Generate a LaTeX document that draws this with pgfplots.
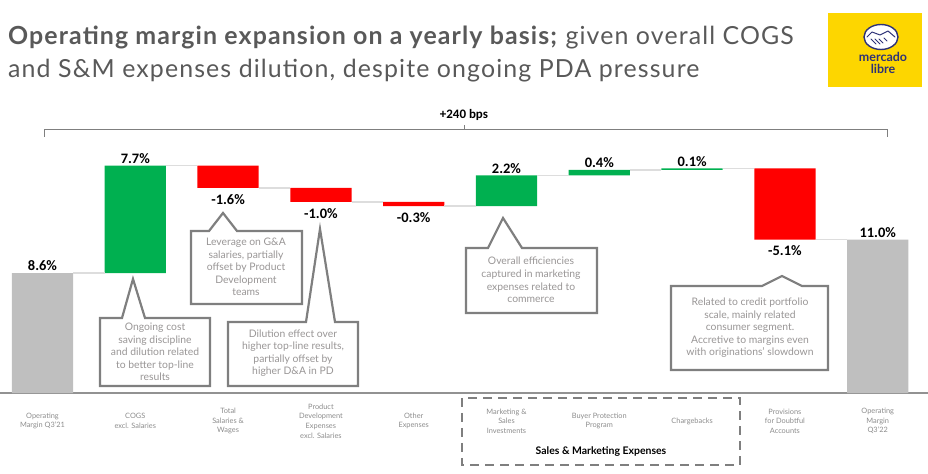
\documentclass[border=0pt]{standalone}
\usepackage{pgfplots}
\pgfplotsset{compat=1.18}
\usepackage{fontspec}
\setmainfont{Lato}
\newfontfamily\carlito{Carlito}
\newfontfamily\titlefont[LetterSpace=4.5]{Lato}
\definecolor{tgray}{HTML}{595959}
\definecolor{gbar}{HTML}{BFBFBF}
\definecolor{gup}{HTML}{00B050}
\definecolor{rdown}{HTML}{FF0000}
\definecolor{conn}{HTML}{DDDDDD}
\definecolor{boxc}{HTML}{7F7F7F}
\definecolor{ctext}{HTML}{999696}
\definecolor{lbl}{HTML}{8C8C8C}
\definecolor{mly}{HTML}{FDD600}
\definecolor{mlb}{HTML}{2D3277}
\begin{document}
\begin{tikzpicture}
\path[use as bounding box] (0,0) rectangle (928bp,474bp);
\pgfplotsset{wf/.style={at={(0,0)},anchor=south west,scale only axis,width=928bp,height=474bp,
  xmin=-0.458,xmax=9.542,ymin=-5.806,ymax=28.172,clip=false,
  axis line style={draw=none},tick style={draw=none},ytick=\empty}}
% baseline
\draw[boxc!85, line width=1.3bp] (0,81bp) -- (928bp,81bp);
% bars
\begin{axis}[wf, ybar stacked, bar width=0.66,
  xtick={0,...,9},
  xticklabels={Operating\\Margin Q3'21, COGS\\excl. Salaries, Total\\Salaries \&\\Wages,
    Product\\Development\\Expenses\\excl. Salaries, Other\\Expenses,
    Marketing \&\\Sales\\Investments, Buyer Protection\\Program, Chargebacks,
    Provisions\\for Doubtful\\Accounts, Operating\\Margin\\Q3'22},
  xticklabel style={anchor=center, align=center, text=lbl, yshift=53bp,
    font=\fontsize{7.4}{9.6}\selectfont}]
\addplot[fill=none, draw=none] coordinates {(0,0) (1,8.6) (2,14.7) (3,13.7) (4,13.4) (5,13.4) (6,15.6) (7,16.0) (8,11.0) (9,0)};
\addplot[fill=gbar, draw=none] coordinates {(0,8.6) (1,0) (2,0) (3,0) (4,0) (5,0) (6,0) (7,0) (8,0) (9,11.0)};
\addplot[fill=gup, draw=none] coordinates {(0,0) (1,7.7) (2,0) (3,0) (4,0) (5,2.2) (6,0.4) (7,0.1) (8,0) (9,0)};
\addplot[fill=rdown, draw=none] coordinates {(0,0) (1,0) (2,1.6) (3,1.0) (4,0.3) (5,0) (6,0) (7,0) (8,5.1) (9,0)};
\end{axis}
% connectors and value labels
\begin{axis}[wf, xtick=\empty]
\addplot[conn, line width=1.5bp] coordinates {(0.33,8.6) (0.67,8.6)};
\addplot[conn, line width=1.5bp] coordinates {(1.33,16.3) (1.67,16.3)};
\addplot[conn, line width=1.5bp] coordinates {(2.33,14.7) (2.67,14.7)};
\addplot[conn, line width=1.5bp] coordinates {(3.33,13.7) (3.67,13.7)};
\addplot[conn, line width=1.5bp] coordinates {(4.33,13.4) (4.67,13.4)};
\addplot[conn, line width=1.5bp] coordinates {(5.33,15.6) (5.67,15.6)};
\addplot[conn, line width=1.5bp] coordinates {(6.33,16.0) (6.67,16.0)};
\addplot[conn, line width=1.5bp] coordinates {(7.33,16.1) (7.67,16.1)};
\addplot[conn, line width=1.5bp] coordinates {(8.33,11.0) (8.67,11.0)};
\tikzset{vu/.style={anchor=south, inner sep=2bp, font=\carlito\bfseries\fontsize{14.5}{14.5}\selectfont},
         vd/.style={anchor=north, inner sep=6bp, font=\carlito\bfseries\fontsize{14.5}{14.5}\selectfont}}
\node[vu] at (axis cs:0,8.6) {8.6\%};
\node[vu] at (axis cs:1,16.3) {7.7\%};
\node[vd] at (axis cs:2,14.7) {-1.6\%};
\node[vd] at (axis cs:3,13.7) {-1.0\%};
\node[vd] at (axis cs:4,13.4) {-0.3\%};
\node[vu] at (axis cs:5,15.6) {2.2\%};
\node[vu] at (axis cs:6,16.0) {0.4\%};
\node[vu] at (axis cs:7,16.1) {0.1\%};
\node[vd] at (axis cs:8,11.0) {-5.1\%};
\node[vu] at (axis cs:9,11.0) {11.0\%};
\end{axis}
\begin{scope}[x=1bp,y=-1bp,yshift=474bp]
% title
\node[anchor=base west, text=tgray, inner sep=0pt, font=\titlefont\fontsize{25}{30}\selectfont] at (8,45)
  {\textbf{Operating margin expansion on a yearly basis;} given overall COGS};
\node[anchor=base west, text=tgray, inner sep=0pt, font=\titlefont\fontsize{25}{30}\selectfont] at (8,78)
  {and S\&M expenses dilution, despite ongoing PDA pressure};
% logo
\fill[mly] (828,13) rectangle (922,87);
\draw[mlb, fill=white, line width=1.4bp] (881,37) ellipse (17 and 12.5);
\draw[mlb, line width=1bp, line cap=round, line join=round] (867,37) -- (872,32) -- (880,35) -- (888,31) -- (895,37)
  (871,39) -- (876,44) (875,39) -- (880,44) (879,39) -- (883,43) (884,38) -- (887,41);
\node[anchor=base, text=mlb, font=\bfseries\fontsize{12.5}{12.5}\selectfont, inner sep=0pt] at (883,62) {mercado};
\node[anchor=base, text=mlb, font=\bfseries\fontsize{12.5}{12.5}\selectfont, inner sep=0pt] at (883,74) {libre};
% bracket
\draw[boxc, line width=1bp] (44,137) -- (44,130) -- (887,130) -- (887,137) (464,130) -- (464,125);
\node[font=\carlito\bfseries\fontsize{13}{13}\selectfont] at (464,115) {+240 bps};
% dashed group box
\draw[boxc, line width=2.8bp, dash pattern=on 9bp off 6bp] (462,398) rectangle (740,465);
\node[font=\bfseries\fontsize{10.5}{12}\selectfont] at (601,452) {Sales \& Marketing Expenses};
% callouts
\tikzset{cb/.style={draw=boxc, fill=white, line width=2.2bp, line join=miter},
         ct/.style={text=ctext, align=center, font=\fontsize{10.4}{12.6}\selectfont}}
\draw[cb] (100,318) -- (122,318) -- (133,279) -- (145,318) -- (210,318) -- (210,386) -- (100,386) -- cycle;
\node[ct] at (155,352) {Ongoing cost\\saving discipline\\and dilution related\\to better top-line\\results};
\draw[cb] (191,231) -- (209,231) -- (223,213) -- (237,231) -- (302,231) -- (302,304) -- (191,304) -- cycle;
\node[ct] at (246,267) {Leverage on G\&A\\salaries, partially\\offset by Product\\Development\\teams};
\draw[cb] (228,322) -- (306,322) -- (320,229) -- (335,322) -- (358,322) -- (358,386) -- (228,386) -- cycle;
\node[ct] at (293,353) {Dilution effect over\\higher top-line results,\\partially offset by\\higher D\&A in PD};
\draw[cb] (466,248) -- (488,248) -- (503,218) -- (522,248) -- (597,248) -- (597,313) -- (466,313) -- cycle;
\node[ct] at (531,280) {Overall efficiencies\\captured in marketing\\expenses related to\\commerce};
\draw[cb] (671,286) -- (762,286) -- (782,276) -- (802,286) -- (828,286) -- (828,370) -- (671,370) -- cycle;
\node[ct] at (750,328) {Related to credit portfolio\\scale, mainly related\\consumer segment.\\Accretive to margins even\\with originations' slowdown};
\end{scope}
\end{tikzpicture}
\end{document}
